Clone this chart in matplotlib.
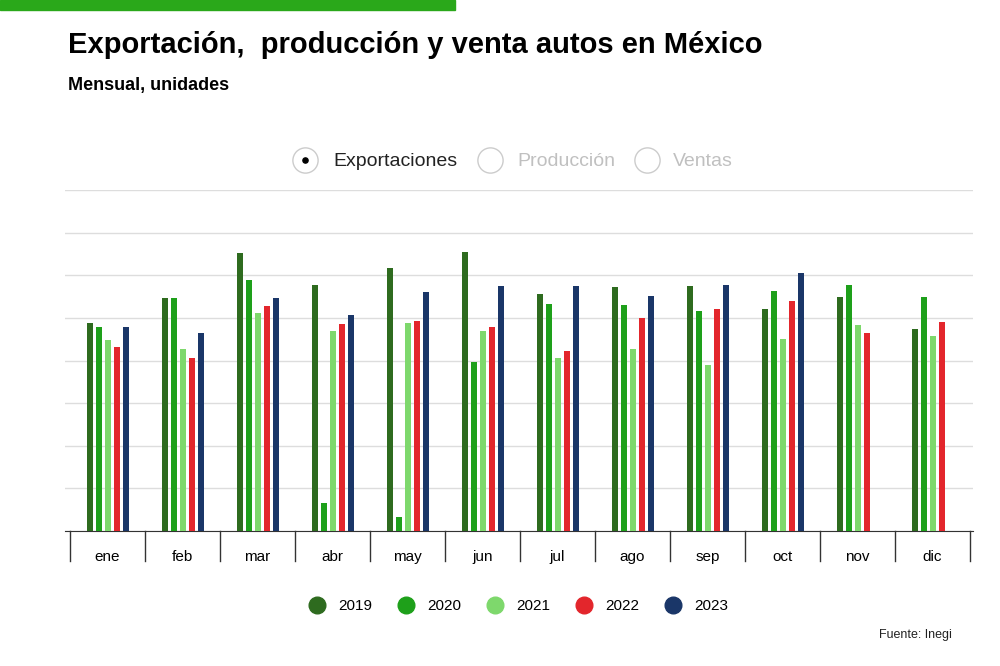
import numpy as np
import matplotlib.pyplot as plt
from matplotlib.lines import Line2D

months = ["ene", "feb", "mar", "abr", "may", "jun", "jul", "ago", "sep", "oct", "nov", "dic"]
years = ["2019", "2020", "2021", "2022", "2023"]
colors = ["#2e6b1f", "#1ea01a", "#7ed86c", "#e3262c", "#1a3668"]

exp_2019 = [195000, 219000, 261000, 231000, 247000, 262000, 222000, 229000, 230000, 208000, 220000, 190000]
exp_2020 = [191000, 219000, 236000, 26000, 13000, 159000, 213000, 212000, 206000, 225000, 231000, 220000]
exp_2021 = [179000, 171000, 205000, 188000, 195000, 188000, 162000, 171000, 156000, 180000, 193000, 183000]
exp_2022 = [173000, 162000, 211000, 194000, 197000, 191000, 169000, 200000, 208000, 216000, 186000, 196000]
exp_2023 = [191000, 186000, 219000, 203000, 224000, 230000, 230000, 221000, 231000, 242000, np.nan, np.nan]
series = [exp_2019, exp_2020, exp_2021, exp_2022, exp_2023]

plt.rcParams['font.family'] = ['Liberation Sans', 'DejaVu Sans']
fig = plt.figure(figsize=(10, 6.66), dpi=100)

# top accent bar
fig.patches.append(plt.Rectangle((0, 0.985), 0.455, 0.015, transform=fig.transFigure, color="#2aa81a"))
fig.text(0.068, 0.933, "Exportación,  producción y venta autos en México", fontsize=21, weight="bold", va="center")
fig.text(0.068, 0.872, "Mensual, unidades", fontsize=13, weight="bold", va="center")

ax = fig.add_axes([0.065, 0.2027, 0.908, 0.512])
x = np.arange(len(months))
off = 0.12
for i, (vals, c) in enumerate(zip(series, colors)):
    ax.bar(x + (i - 2) * off, vals, width=0.08, color=c, zorder=3)

ax.set_xlim(-0.567, 11.54)
ax.set_ylim(0, 320000)
ax.set_yticks(np.arange(0, 320001, 40000))
ax.grid(axis="y", color="#dddddd", lw=1, zorder=0)
ax.tick_params(left=False, labelleft=False, bottom=False)
ax.set_xticks(x)
ax.set_xticklabels(months, fontsize=11)
ax.tick_params(axis="x", pad=10)
for s in ["top", "right", "left"]:
    ax.spines[s].set_visible(False)
ax.spines["bottom"].set_color("#333333")
for k in range(13):
    ax.plot([k - 0.5, k - 0.5], [0, -28000], color="#333333", lw=1, clip_on=False)

# top radio legend
lax = fig.add_axes([0, 0, 1, 1], facecolor="none")
lax.set_xlim(0, 1)
lax.set_ylim(0, 1)
lax.axis("off")
for cx in [0.305, 0.49, 0.647]:
    lax.scatter(cx, 0.76, s=330, facecolor="white", edgecolor="#cccccc", lw=1)
lax.scatter(0.305, 0.76, s=14, color="black")
fig.text(0.333, 0.758, "Exportaciones", fontsize=14, va="center", color="#222222")
fig.text(0.517, 0.758, "Producción", fontsize=14, va="center", color="#c0c0c0")
fig.text(0.673, 0.758, "Ventas", fontsize=14, va="center", color="#c0c0c0")

handles = [Line2D([], [], marker="o", ls="", markersize=12, color=c) for c in colors]
fig.legend(handles, years, loc="center", bbox_to_anchor=(0.515, 0.09), ncol=5, frameon=False,
           fontsize=11, handletextpad=0.4, columnspacing=1.2)
fig.text(0.952, 0.042, "Fuente: Inegi", fontsize=9, ha="right", color="#222222")

fig.savefig("out.png", dpi=100)
